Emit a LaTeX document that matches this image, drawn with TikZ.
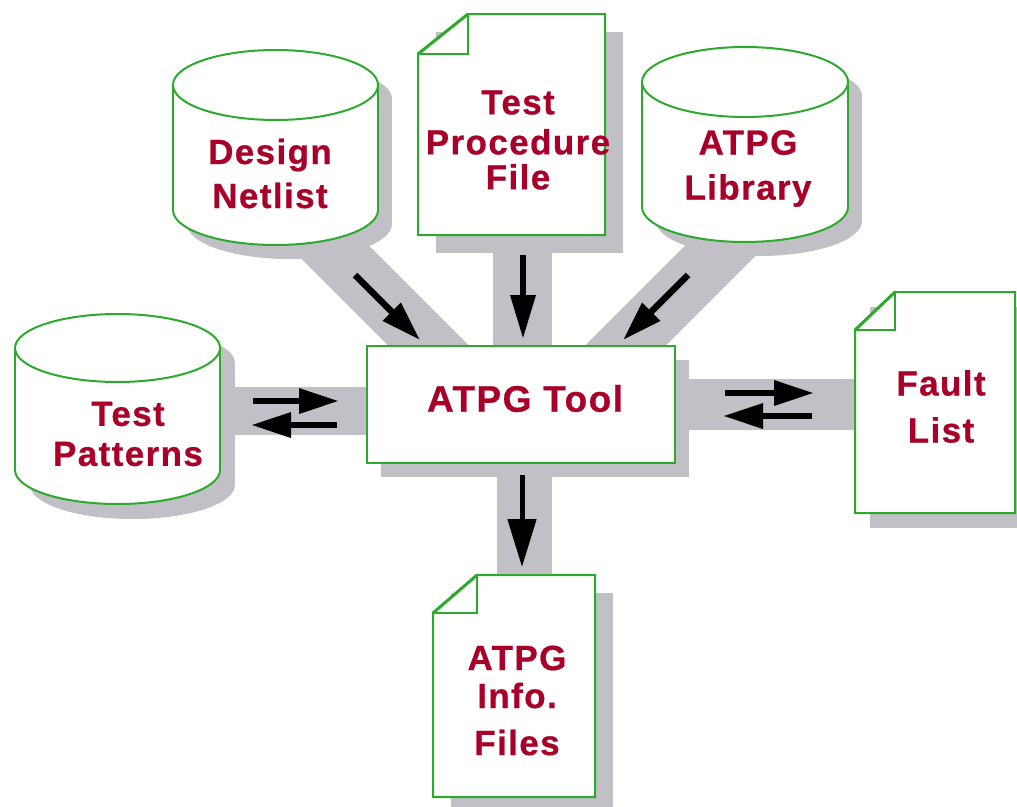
\documentclass[tikz,border=0pt]{standalone}
\usepackage{fontspec}
\setmainfont{Liberation Sans}[LetterSpace=4.0,BoldFeatures={FakeBold=0.6}]
\usetikzlibrary{arrows.meta}
\definecolor{bord}{RGB}{45,170,45}
\definecolor{txtred}{RGB}{168,0,40}
\definecolor{bandgray}{RGB}{192,192,198}

\newcommand\drawcyl[6]{% cx, top y, bottom y, rx, ry, shadow offset
  \fill[shade] ({#1-#4+#6},{#2+#6}) rectangle ({#1+#4+#6},{#3+#6});
  \fill[shade] ({#1+#6},{#2+#6}) ellipse ({#4} and {#5});
  \fill[shade] ({#1+#6},{#3+#6}) ellipse ({#4} and {#5});
  \fill[white] ({#1-#4},#2) rectangle ({#1+#4},#3);
  \fill[white] (#1,#3) ellipse ({#4} and {#5});
  \begin{scope}
    \clip ({#1-#4-5},#3) rectangle ({#1+#4+5},{#3+#5+5});
    \draw[edge] (#1,#3) ellipse ({#4} and {#5});
  \end{scope}
  \draw[edge,fill=white] (#1,#2) ellipse ({#4} and {#5});
  \draw[edge] ({#1-#4},#2) -- ({#1-#4},#3) ({#1+#4},#2) -- ({#1+#4},#3);
}
\newcommand\drawdoc[7]{% left, top, right, bottom, fold dx, fold dy, shadow offset
  \fill[shade] ({#1+#7},{#2+#7}) rectangle ({#3+#7},{#4+#7});
  \draw[edge,fill=white] (#1,{#2+#6}) -- ({#1+#5},#2) -- (#3,#2) -- (#3,#4) -- (#1,#4) -- cycle;
  \draw[edge] (#1,{#2+#6}) -- ({#1+#5},{#2+#6}) -- ({#1+#5},#2);
  \draw[edge,line width=3pt,line cap=round] (#1,{#2+#6}) -- ({#1+#5},#2);
}

\begin{document}
\begin{tikzpicture}[x=1pt,y=-1pt,
  edge/.style={draw=bord,line width=2pt},
  shade/.style={fill=bandgray},
  band/.style={draw=bandgray,line width=#1},
  lbl/.style={font=\fontsize{35}{44}\selectfont\bfseries,text=txtred,align=center,inner sep=0pt},
  flow/.style={draw=black,line width=6.5pt,-{Triangle[length=40pt,width=24pt]}},
]
\useasboundingbox (0,0) rectangle (1017,806);

% band end points
\coordinate (bdn) at (250,167);
\coordinate (bdnT) at (470,387);
\coordinate (bpf) at (522.5,150);
\coordinate (bpfT) at (522.5,405);
\coordinate (blib) at (804,167);
\coordinate (blibT) at (584,387);
\coordinate (btp) at (117,411);
\coordinate (btpT) at (521,411);
\coordinate (bfl) at (935,404.5);
\coordinate (bflT) at (521,404.5);
\coordinate (binf) at (524.5,686);
\coordinate (binfT) at (524.5,405);

% gray bands
\draw[band=57pt] (bdn) -- (bdnT);
\draw[band=59pt] (bpf) -- (bpfT);
\draw[band=57pt] (blib) -- (blibT);
\draw[band=48pt] (btp) -- (btpT);
\draw[band=51pt] (bfl) -- (bflT);
\draw[band=55pt] (binf) -- (binfT);

% shapes
\drawcyl{275.5}{85}{210}{102.5}{35}{14}
\drawcyl{745}{82}{207}{103}{35}{14}
\drawcyl{117.5}{348}{470}{102.5}{34}{15}
\drawdoc{418}{14}{605}{235}{50}{40}{18}
\drawdoc{855}{292}{1015}{513}{40}{38}{15}
\drawdoc{433}{575}{595}{797}{44}{38}{18}
\fill[shade] (381,360) rectangle (689,477);
\draw[edge,fill=white] (367,346) rectangle (675,463);

% labels
\node[lbl] (dn) at (270,173.5) {Design\\Netlist};
\node[lbl,font=\fontsize{35}{40}\selectfont\bfseries] (tpf) at (518,140) {Test\\Procedure\\[-5pt]File};
\node[lbl,font=\fontsize{35}{45}\selectfont\bfseries] (lib) at (748,168.5) {ATPG\\Library};
\node[lbl,font=\fontsize{35}{40}\selectfont\bfseries] (tp) at (128,434) {Test\\Patterns};
\node[lbl,font=\fontsize{37}{44}\selectfont\bfseries] (tool) at (525,398.5) {ATPG Tool};
\node[lbl,font=\fontsize{35}{47}\selectfont\bfseries] (fl) at (941,406.5) {Fault\\List};
\node[lbl,font=\fontsize{35}{42}\selectfont\bfseries] (info) at (517,700.5) {ATPG\\[-4pt]Info.\\[5pt]Files};

% arrow end points
\coordinate (a1s) at (355,275);  \coordinate (a1e) at (420,340);
\coordinate (a2s) at (523,255);  \coordinate (a2e) at (523,339);
\coordinate (a3s) at (688,275);  \coordinate (a3e) at (623,340);
\coordinate (a4s) at (253,401);  \coordinate (a4e) at (339,401);
\coordinate (a5s) at (337,425);  \coordinate (a5e) at (251,425);
\coordinate (a6s) at (725,393);  \coordinate (a6e) at (814,393);
\coordinate (a7s) at (812,416);  \coordinate (a7e) at (723,416);
\coordinate (a8s) at (522,475);  \coordinate (a8e) at (522,567);

\draw[flow] (a1s) -- (a1e);
\draw[flow,-{Triangle[length=44pt,width=24pt]}] (a2s) -- (a2e);
\draw[flow] (a3s) -- (a3e);
\draw[flow] (a4s) -- (a4e);
\draw[flow] (a5s) -- (a5e);
\draw[flow] (a6s) -- (a6e);
\draw[flow] (a7s) -- (a7e);
\draw[flow,line width=5pt,-{Triangle[length=48pt,width=28pt]}] (a8s) -- (a8e);
\end{tikzpicture}
\end{document}
